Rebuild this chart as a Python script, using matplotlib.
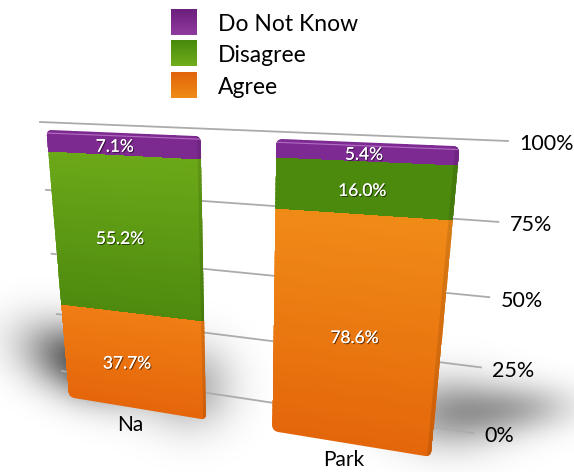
import numpy as np
import matplotlib
matplotlib.use('Agg')
import matplotlib.pyplot as plt
import matplotlib.patheffects as pe
from matplotlib.colors import LinearSegmentedColormap
from matplotlib.patches import FancyBboxPatch
from matplotlib.transforms import Transform

categories = ['Na', 'Park']
series_names = ['Agree', 'Disagree', 'Do Not Know']
agree = [37.7, 78.6]
disagree = [55.2, 16.0]
do_not_know = [7.1, 5.4]
tick_values = [0, 25, 50, 75, 100]
tick_labels = ['0%', '25%', '50%', '75%', '100%']
legend_order = ['Do Not Know', 'Disagree', 'Agree']

plt.rcParams['font.family'] = ['Lato', 'DejaVu Sans']


# homografia: lleva unidades del grafico a pixeles de la imagen
class Perspective(Transform):
    input_dims = 2
    output_dims = 2
    is_separable = False
    has_inverse = False

    def __init__(self, src, dst):
        super().__init__()
        a = []
        b = []
        for (x, y), (u, v) in zip(src, dst):
            a.append([x, y, 1, 0, 0, 0, -u * x, -u * y])
            a.append([0, 0, 0, x, y, 1, -v * x, -v * y])
            b += [u, v]
        h = np.linalg.solve(np.array(a, float), np.array(b, float))
        self.h = np.append(h, 1).reshape(3, 3)

    def transform_non_affine(self, values):
        values = np.asarray(values, float)
        p = np.column_stack([values, np.ones(len(values))]) @ self.h.T
        return p[:, :2] / p[:, 2:3]


fig = plt.figure(figsize=(5.74, 4.72), dpi=100)
ax = fig.add_axes([0, 0, 1, 1])
ax.set_xlim(0, 574)
ax.set_ylim(472, 0)
ax.autoscale(False)
ax.axis('off')

# plano del fondo (grilla) y plano de las barras
grid_plane = Perspective([(0, 100), (1, 100), (0, 0), (1, 0)],
                         [(40, 122), (508, 141), (62, 371), (473, 433)]) + ax.transData
bar_widths = [0.71, 0.68]
bar_pos = np.array([0.005, 1.01])
text_dx = [-0.03, 0.0]
bar_plane = Perspective([(-0.35, 100), (1.35, 100), (-0.35, 0), (1.35, 0)],
                        [(46, 130), (460, 146), (69, 397), (431, 457)]) + ax.transData

# sombras difusas sobre el piso
yy, xx = np.mgrid[0:472, 0:574]
def blob(cx, cy, sx, sy, rot):
    dx, dy = xx - cx, yy - cy
    u = dx * np.cos(rot) + dy * np.sin(rot)
    v = -dx * np.sin(rot) + dy * np.cos(rot)
    return np.exp(-((u / sx) ** 2 + (v / sy) ** 2))
shade = (0.68 * blob(85, 362, 60, 34, 0.35) + 0.30 * blob(190, 385, 42, 42, 0)
         + 0.36 * blob(450, 412, 58, 36, 0) + 0.26 * blob(520, 408, 55, 24, -0.05))
rgba = np.zeros((472, 574, 4))
rgba[..., 3] = np.clip(shade, 0, 0.8)
ax.imshow(rgba, extent=(0, 574, 472, 0), zorder=1, aspect='auto', interpolation='bilinear')

for v in tick_values:
    ax.plot([0, 1], [v, v], color='#ababab', lw=1.3, zorder=2, transform=grid_plane)
    ax.annotate(tick_labels[tick_values.index(v)], xy=(1, v), xycoords=grid_plane,
                xytext=(8, -2.5), textcoords='offset points', ha='left', va='center',
                fontsize=15.5, color='black', zorder=6)

# colores (arriba, abajo) por barra
bar_colors = [
    {'Agree': ('#ef7d14', '#e5660a'), 'Disagree': ('#6ba818', '#4e8a0e'), 'Do Not Know': ('#7d2a90', '#7d2a90')},
    {'Agree': ('#f08a17', '#e4660a'), 'Disagree': ('#4c8a0e', '#4c8a0e'), 'Do Not Know': ('#7d2a92', '#7d2a92')},
]
shadow_fx = [pe.withSimplePatchShadow(offset=(0.8, -0.8), shadow_rgbFace='black', alpha=0.55),
             pe.Normal()]
series_values = [agree, disagree, do_not_know]

for i, cat in enumerate(categories):
    x0 = bar_pos[i] - bar_widths[i] / 2
    x1 = bar_pos[i] + bar_widths[i] / 2
    outline = FancyBboxPatch((x0, 0), bar_widths[i], 100, boxstyle='round,pad=0,rounding_size=0.025',
                             mutation_aspect=100, transform=bar_plane, fc='none', ec='none')
    ax.add_patch(outline)
    bottom = 0
    for name, vals in zip(series_names, series_values):
        top_c, low_c = bar_colors[i][name]
        cmap = LinearSegmentedColormap.from_list(name, [low_c, top_c])
        ys = np.linspace(bottom, bottom + vals[i], 41)
        xs = np.array([x0, x1])
        z = np.linspace(0, 1, 40).reshape(-1, 1)
        mesh = ax.pcolormesh(xs, ys, z, cmap=cmap, shading='flat', transform=bar_plane,
                             zorder=3, antialiased=False)
        mesh.set_clip_path(outline)
        # canto derecho mas oscuro
        edge = ax.fill_between([x1 - 0.018, x1], bottom, bottom + vals[i], color='black',
                               alpha=0.10, lw=0, zorder=3.2, transform=bar_plane)
        edge.set_clip_path(outline)
        ax.annotate(f'{vals[i]:.1f}%', xy=(bar_pos[i] + text_dx[i], bottom + vals[i] / 2), xycoords=bar_plane,
                    xytext=(0, -2.2), textcoords='offset points',
                    ha='center', va='center', color='white', fontsize=12.5, zorder=5,
                    path_effects=shadow_fx)
        bottom += vals[i]
    lip, = ax.plot([x0, x1], [99.0, 99.0], color='#c98ad6', lw=0.8, alpha=0.7, zorder=3.4,
                   transform=bar_plane)
    lip.set_clip_path(outline)
    ax.annotate(cat, xy=(bar_pos[i], 0), xycoords=bar_plane, xytext=(-4, -5),
                textcoords='offset points', ha='center', va='top', fontsize=15, zorder=6)

# leyenda con cuadros en degrade
legend_colors = {'Do Not Know': ('#6c1f7c', '#8f3a9f'), 'Disagree': ('#478a0c', '#70ac1b'),
                 'Agree': ('#e2640a', '#ee8b16')}
for k, name in enumerate(legend_order):
    y0 = 9 + k * 31.5
    cmap = LinearSegmentedColormap.from_list(name + '_leg', legend_colors[name])
    ax.imshow(np.linspace(0, 1, 26).reshape(-1, 1), cmap=cmap, extent=(171, 197, y0 + 26, y0),
              aspect='auto', zorder=4)
    ax.text(218, y0 + 22, name, fontsize=16.5, ha='left', va='baseline', color='black', zorder=6)

fig.savefig('out.png', dpi=100)
